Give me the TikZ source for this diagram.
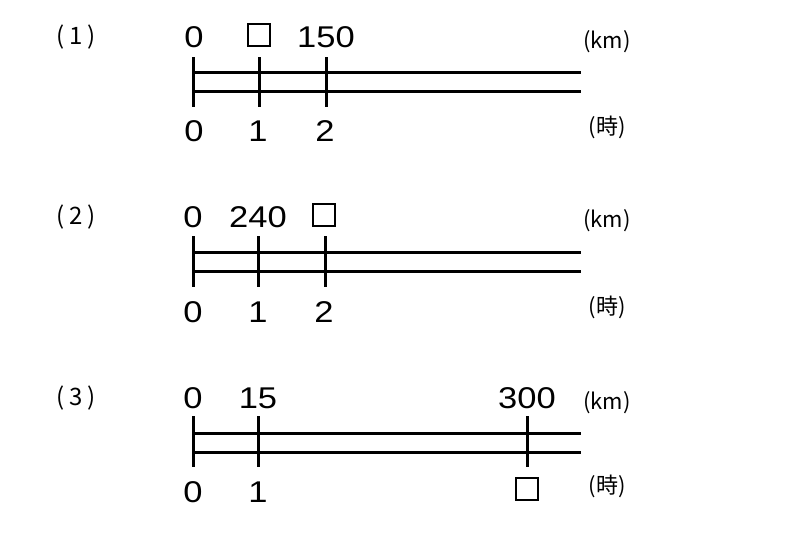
\documentclass[tikz,border=0pt]{standalone}
\usepackage{fontspec}
\newfontfamily\numfont[FakeStretch=1.15]{Liberation Sans}
\newfontfamily\jpfont{Noto Sans CJK JP}
\tikzset{
  axisline/.style={line width=3pt},
  tickmark/.style={line width=3pt},
  num/.style={font=\numfont\fontsize{30}{30}\selectfont, inner sep=0pt, anchor=center},
  unitlbl/.style={font=\jpfont\fontsize{22}{22}\selectfont, inner sep=0pt, anchor=center},
  itemlbl/.style={font=\jpfont\fontsize{24}{24}\selectfont, inner sep=0pt, anchor=center},
  qbox/.style={draw, line width=1.4pt, minimum size=22pt, inner sep=0pt},
}
\begin{document}
\begin{tikzpicture}[x=1pt,y=-1pt]
\useasboundingbox (0,0) rectangle (800,533);
% ---------- (1) ----------
\node[itemlbl] (n1) at (76,37) {(\hspace{5pt}1\hspace{5pt})};
\coordinate (s1u) at (193,72); \coordinate (e1u) at (581,72);
\coordinate (s1l) at (193,91); \coordinate (e1l) at (581,91);
\draw[axisline] (s1u) -- (e1u);
\draw[axisline] (s1l) -- (e1l);
\coordinate (p1a) at (193,57); \coordinate (q1a) at (193,107);
\coordinate (p1b) at (259,57); \coordinate (q1b) at (259,107);
\coordinate (p1c) at (326,57); \coordinate (q1c) at (326,107);
\draw[tickmark] (p1a) -- (q1a);
\draw[tickmark] (p1b) -- (q1b);
\draw[tickmark] (p1c) -- (q1c);
\node[num] (t1a) at (194,37) {0};
\node[qbox] (t1b) at (259,35) {};
\node[num] (t1c) at (326,37) {150};
\node[num] (b1a) at (194,131) {0};
\node[num] (b1b) at (258,131) {1};
\node[num] (b1c) at (325,131) {2};
\node[unitlbl] (k1) at (607,42) {(km)};
\node[unitlbl] (h1) at (607,127) {(時)};
% ---------- (2) ----------
\node[itemlbl] (n2) at (76,217) {(\hspace{5pt}2\hspace{5pt})};
\coordinate (s2u) at (193,252); \coordinate (e2u) at (581,252);
\coordinate (s2l) at (193,271); \coordinate (e2l) at (581,271);
\draw[axisline] (s2u) -- (e2u);
\draw[axisline] (s2l) -- (e2l);
\coordinate (p2a) at (193,236); \coordinate (q2a) at (193,287);
\coordinate (p2b) at (258,236); \coordinate (q2b) at (258,287);
\coordinate (p2c) at (325,236); \coordinate (q2c) at (325,287);
\draw[tickmark] (p2a) -- (q2a);
\draw[tickmark] (p2b) -- (q2b);
\draw[tickmark] (p2c) -- (q2c);
\node[num] (t2a) at (193,217) {0};
\node[num] (t2b) at (258,217) {240};
\node[qbox] (t2c) at (324,215) {};
\node[num] (b2a) at (193,312) {0};
\node[num] (b2b) at (258,312) {1};
\node[num] (b2c) at (324,312) {2};
\node[unitlbl] (k2) at (607,221) {(km)};
\node[unitlbl] (h2) at (607,307) {(時)};
% ---------- (3) ----------
\node[itemlbl] (n3) at (76,398) {(\hspace{5pt}3\hspace{5pt})};
\coordinate (s3u) at (193,433); \coordinate (e3u) at (581,433);
\coordinate (s3l) at (193,452); \coordinate (e3l) at (581,452);
\draw[axisline] (s3u) -- (e3u);
\draw[axisline] (s3l) -- (e3l);
\coordinate (p3a) at (193,416); \coordinate (q3a) at (193,467);
\coordinate (p3b) at (258,416); \coordinate (q3b) at (258,467);
\coordinate (p3c) at (527,416); \coordinate (q3c) at (527,467);
\draw[tickmark] (p3a) -- (q3a);
\draw[tickmark] (p3b) -- (q3b);
\draw[tickmark] (p3c) -- (q3c);
\node[num] (t3a) at (193,398) {0};
\node[num] (t3b) at (258,398) {15};
\node[num] (t3c) at (527,398) {300};
\node[num] (b3a) at (193,492) {0};
\node[num] (b3b) at (258,492) {1};
\node[qbox] (b3c) at (527,489) {};
\node[unitlbl] (k3) at (607,403) {(km)};
\node[unitlbl] (h3) at (607,486) {(時)};
\end{tikzpicture}
\end{document}
